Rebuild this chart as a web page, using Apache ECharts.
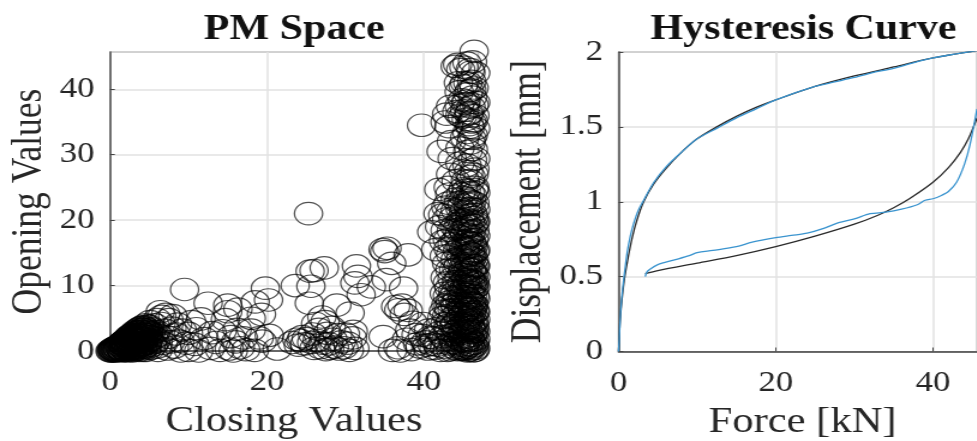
<!DOCTYPE html>
<html>
<head>
<meta charset="utf-8">
<style>html,body{margin:0;padding:0;background:#fff;overflow:hidden;width:977px;height:441px}
#c{width:814.17px;height:441px;transform:scaleX(1.2);transform-origin:0 0;filter:blur(0.45px)}</style>
<script src="https://cdn.jsdelivr.net/npm/echarts@6/dist/echarts.min.js"></script>
</head>
<body>
<div id="c"></div>
<script>
const xTicksInterval = 20;
const pmOrigin = [[0,0],[0.2,0.1],[0.3,0],[0.4,0.2],[0.5,0.1],[0.6,0.4],[0.7,0.2],[0.8,0],[0.9,0.5],[1,0.3],[1,0.7],[1.1,0.1],[1.2,0.5],[1.3,0.9],[1.4,0.2],[1.5,0.7],[1.5,1.2],[1.6,0],[1.7,0.4],[1.8,1],[1.8,1.5],[1.9,0.2],[2,0.7],[2,1.3],[2.1,1.8],[2.2,0],[2.3,0.5],[2.3,1.1],[2.4,1.6],[2.5,2.1],[2.6,0.2],[2.6,0.8],[2.7,1.4],[2.8,2],[2.8,2.5],[2.9,0],[3,0.5],[3,1.1],[3,1.7],[3.1,2.3],[3.2,2.8],[3.3,0.2],[3.3,0.9],[3.4,1.5],[3.5,2.1],[3.5,2.9],[3.6,3.3],[3.7,0.1],[3.7,0.7],[3.8,1.3],[3.9,1.9],[3.9,2.5],[4,3],[4,3.6],[4.1,0.3],[4.2,1],[4.3,1.7],[4.3,2.3],[4.4,2.9],[4.5,3.5],[4.5,4],[4.6,0.1],[4.7,0.8],[4.8,1.4],[4.9,2.2],[5,3],[5,3.8],[5.1,4.5],[5.2,0.4],[5.3,1.2],[2.2,1.5],[1.6,1],[2.9,1.9],[3.4,2.4],[2.5,1.2],[1.2,0.9],[0.7,0.5],[3.8,2.9],[4.2,3.3],[0.3,0.2],[1.9,1.1],[2.7,0.4],[3.1,1.3],[3.6,0.6],[4.4,1.1],[4.8,3.3]];
const pmOriginFill = [[0.1,0],[0.3,0.3],[0.5,0.4],[0.6,0],[0.8,0.6],[0.9,0.1],[1.1,0.8],[1.3,0.3],[1.4,1.1],[1.5,0.1],[1.7,0.8],[1.7,1.4],[1.9,1.6],[2,0.1],[2.1,0.5],[2.1,1],[2.2,1.9],[2.4,0.3],[2.4,0.9],[2.4,2.2],[2.5,1.6],[2.6,2.4],[2.7,0.9],[2.8,1.2],[2.8,0.1],[2.9,2.2],[3,2.7],[3,1.4],[3.1,0.3],[3.1,0.8],[3.2,1.8],[3.2,3],[3.3,2.5],[3.4,0.5],[3.4,1.2],[3.5,1.8],[3.6,2.6],[3.6,0.3],[3.7,3.1],[3.7,1],[3.8,2.2],[3.8,3.5],[3.9,0.5],[3.9,1.6],[4,2.7],[4,0.9],[4.1,2],[4.1,3.3],[4.2,0.1],[4.2,1.4],[4.3,2.6],[4.3,3.7],[4.4,0.6],[4.5,1.9],[4.6,2.5],[4.6,3.1],[4.7,1.2],[4.7,3.8],[4.8,0.5],[4.9,2.8],[5,1.7],[5.2,2.6],[5.4,3.4],[5.5,0.9],[5.6,2],[5.7,4],[5.8,1.4],[5.9,3],[6,4.8],[6.1,0.1]];
const pmLowBand = [[6,0.6],[6.2,2.4],[6.4,6],[6.5,4.2],[6.6,5.3],[6.8,1.2],[7,3.2],[7.1,5.6],[7.3,0.3],[7.4,2.1],[7.5,4.8],[7.7,1.4],[7.9,3.5],[8,5.4],[8.2,0.6],[8.4,2.6],[8.6,4.1],[8.9,1.5],[9,0],[9.2,3.2],[9.5,9.4],[9.7,1.2],[10,0.1],[10,2.7],[10.4,4.5],[10.8,1],[11,3.4],[11.3,0],[11.6,4.9],[12,1.9],[12.5,7.3],[12.8,0.4],[13,2.8],[13.5,1.3],[14,0.1],[14.3,3.1],[14.7,4.8],[15,7],[15,6],[15.2,0.3],[15.4,2.2],[15.7,0],[16,1.4],[16.2,3.3],[16.3,6.4],[16.6,0.5],[17,2],[17.3,0.2],[18,3.2],[18,5],[18.4,0.1],[18.5,7.5],[19,2],[19.3,5.6],[19.4,1.5],[19.8,9.6],[20.2,7.8],[20.3,2.4],[21.3,0.3]];
const pmMidBand = [[23.2,1.3],[23.6,10],[23.8,1.8],[24,0.9],[24.3,1.6],[24.5,2.2],[24.8,1.1],[25,1.9],[25.3,21],[25.4,7.3],[25.5,12.2],[25.6,9.9],[25.7,1.3],[25.8,2.6],[26,12.3],[26,0.4],[26.2,4.2],[26.4,1.6],[26.6,3.3],[26.8,0.5],[27,5.2],[27.1,1.2],[27.3,12.7],[27.4,4.5],[27.5,0.2],[27.7,2.7],[27.9,1.1],[28,0.4],[28.2,3.6],[28.4,1.8],[28.6,0.6],[28.9,7],[29,2.5],[29.2,0.3],[29.5,1.4],[29.8,0.5],[30,2.6],[30.3,1.2],[30.5,0.1],[30.6,5.8],[30.9,2],[31,3],[31.2,0.4],[31.2,10.4],[31.4,13],[31.6,11.4],[32,8.6],[33.3,9.8],[34.8,15.5],[34.8,2.2],[35,15.2],[35.3,15.7],[35.9,13.4],[35.2,10.9],[36,0.1],[36.4,6.8],[36.7,0.5],[36.8,6.3],[37,0],[37.2,7],[37.4,9.6],[37.5,5.6],[37.8,1.8],[38,14.7],[38,6.2],[38.2,3.2],[38.4,0.2],[38.6,4.4],[39,2.5],[39.2,1.1],[39.5,0.6],[39.7,34.5],[39.9,4.2],[40.2,1.4],[40.5,0.3],[40.8,2.1],[41,1],[41.3,0.4],[41.6,3.4],[41.9,1.3],[42.1,0.1],[42.3,5.1]];
const pmRightColumn = [[41,18.2],[41.5,15.5],[41.8,21],[41.9,24.7],[42,19],[42.2,30.5],[42.4,20.8],[42.6,14.5],[42.7,35],[42.8,22],[43,8.4],[43,17],[43.1,25],[43.2,34.3],[43.3,12.4],[43.4,21.3],[43.5,32],[43.6,16.4],[43.6,6.3],[43.7,9.2],[43.8,3.8],[43.9,19],[44,23.2],[44,14],[44,43.5],[44.1,1.2],[44.2,7.7],[44.2,36.6],[44.3,43.8],[44.3,10.6],[44.4,17.6],[44.4,4.8],[44.5,39.6],[44.5,37.5],[44.6,21.8],[44.6,28.7],[44.7,43],[44.7,0.3],[44.8,13.2],[44.8,2.7],[44.9,35.8],[44.9,8.3],[45,40.5],[45,18.3],[45,5.7],[45.1,43.4],[45.1,23.5],[45.1,11.7],[45.2,36.8],[45.2,0.8],[45.3,26],[45.3,15.7],[45.3,7],[45.4,38.2],[45.4,20.2],[45.4,3.1],[45.5,44],[45.5,33.4],[45.5,9.9],[45.5,0],[45.6,41],[45.6,30.5],[45.6,22.4],[45.6,13.8],[45.6,5],[45.7,36.2],[45.7,27.4],[45.7,17],[45.7,1.8],[45.8,39.8],[45.8,34.6],[45.8,20.7],[45.8,11.5],[45.8,7.8],[45.9,43],[45.9,24.2],[45.9,15],[45.9,3.6],[46,37.3],[46,31.8],[46,26.7],[46,19.4],[46,9],[46,0.5],[46.1,41.2],[46.1,35],[46.1,22.8],[46.1,12.6],[46.1,5.9],[46.2,44.2],[46.2,38.8],[46.2,29.2],[46.2,16.4],[46.2,2.4],[46.3,33],[46.3,20.9],[46.3,10.3],[46.3,7.2],[46.3,0],[46.4,45.8],[46.4,40.2],[46.4,24.7],[46.4,14],[46.4,4.4],[46.5,36],[46.5,27.8],[46.5,18.4],[46.5,8.4],[46.5,1.2],[46.6,42.5],[46.6,34],[46.6,21.6],[46.6,11.3],[46.6,6],[46.6,3],[45,20],[45.2,14],[44.6,10],[44.9,6.4],[45.4,16.8],[45.1,2],[45.7,12.6],[45.3,18.8],[45.5,23.2],[44.3,15.3],[44.5,19.5],[44.7,24],[44.8,16],[45,9],[45.2,4.2],[45.6,8],[45.8,2.8],[46,14.8],[46.2,6.6],[46.4,17],[46.5,22.6],[46.6,13],[46.1,9.8],[45.9,19.9],[45.7,21.7],[45.5,6.3],[45.3,11],[45.1,0.2],[44.9,12],[44.7,5.2],[44.4,1.9],[44.2,12.6],[44,6.8],[43.8,1.3],[43.6,11],[43.4,4.5],[44,9],[44.6,7.2],[45.2,8.7],[45.8,5.2],[46.4,9.6],[46.3,19.2],[46.1,3.2],[46,7.2],[45.9,0.9],[45.4,1.4],[44.8,0.5],[46.5,15.2],[46.6,0.4],[46.6,19.8],[46.2,12],[45.6,15.8],[45,24.8],[45.9,26],[46.3,30.8],[45.5,28.4],[46.1,32.5],[45.4,35.4],[46.4,37.6],[45.9,34.2],[45.3,37.8],[44.9,38.4],[45.6,39.3],[46.1,39.9],[45.2,41],[45.8,36.4],[46.3,35.2],[44.6,36],[44.4,41],[46,42.6]];
const pmColumnFill = [[43,3.2],[43.1,6.8],[43.2,1.1],[43.2,9.6],[43.3,7.5],[43.4,14.7],[43.4,0.2],[43.5,2.5],[43.5,18.4],[43.6,8.2],[43.7,5.1],[43.7,20.3],[43.8,12.4],[43.9,7.2],[43.9,2.6],[44,0.4],[44,4.2],[44,16.8],[44,21.5],[44.1,10.6],[44.1,26],[44.2,5.6],[44.2,18.6],[44.3,0.2],[44.3,3.1],[44.3,8.4],[44.4,13.1],[44.4,22.7],[44.5,6.2],[44.5,11.2],[44.5,0.9],[44.6,3.6],[44.6,16.2],[44.6,31],[44.7,9],[44.7,14.4],[44.7,20.1],[44.8,1.6],[44.8,6.9],[44.8,18.8],[44.9,4],[44.9,10.4],[44.9,22.3],[45,0.3],[45,3],[45,7.2],[45,12.8],[45,27.5],[45.1,5],[45.1,15.6],[45.1,21.3],[45.2,1.5],[45.2,10],[45.2,18],[45.2,32.6],[45.3,3.8],[45.3,6],[45.3,13],[45.3,0.4],[45.4,8.1],[45.4,10.9],[45.4,14.6],[45.4,24.6],[45.5,2.2],[45.5,4.6],[45.5,12],[45.5,19.2],[45.6,0.6],[45.6,3.4],[45.6,6.6],[45.6,10.6],[45.6,17.8],[45.7,1],[45.7,4.4],[45.7,9],[45.7,14.6],[45.7,19],[45.8,0.1],[45.8,6.4],[45.8,13.4],[45.8,16.4],[45.8,23],[45.9,2],[45.9,4.8],[45.9,8.6],[45.9,11],[45.9,17.6],[46,1.6],[46,3.6],[46,5.6],[46,10.8],[46,12.4],[46,16.6],[46,21.8],[46.1,0.3],[46.1,7.4],[46.1,14.2],[46.1,18.2],[46.2,1.2],[46.2,4.2],[46.2,8.4],[46.2,10.6],[46.2,14.8],[46.2,23.8],[46.3,2.8],[46.3,5.6],[46.3,12.8],[46.3,16],[46.4,0.8],[46.4,3],[46.4,7],[46.4,11.8],[46.4,20.4],[46.4,27],[46.5,0.1],[46.5,3.8],[46.5,6],[46.5,10.4],[46.5,13],[46.5,19.6],[46.5,25],[46.6,1.8],[46.6,4.8],[46.6,8],[46.6,9.8],[46.6,15.4],[46.6,17.6],[46.6,24.2],[46.6,29.4],[46.6,38]];
const pmLeftEdge = [[42.4,2.2],[42.5,6.1],[42.6,0.6],[42.6,8.8],[42.7,4.2],[42.7,11.2],[42.8,1.7],[42.8,7],[42.9,13.4],[42.9,5.3],[43,10.4],[43,0.1],[43.1,3.9],[43.1,15.6],[43.2,6.2],[42.5,16.8],[42.7,18.4],[42.9,20.2],[43.1,22.6],[43.3,24],[43.4,27],[43.6,29.4],[42.9,36.2],[43.4,37.4],[40.6,3.2],[41.2,2],[41.7,0.9],[39.8,2.4],[40.4,0.9],[42,2.8]];
const pmPoints = [...pmOrigin, ...pmOriginFill, ...pmLowBand, ...pmMidBand, ...pmRightColumn, ...pmColumnFill, ...pmLeftEdge];

const blackLoading = [[0,0],[0.1,0.1],[0.2,0.2],[0.35,0.3],[0.55,0.4],[0.8,0.5],[1.2,0.62],[1.7,0.75],[2.3,0.87],[3.2,1],[4.5,1.12],[6,1.22],[8,1.33],[10,1.42],[12.5,1.5],[15,1.57],[17.5,1.63],[20,1.68],[25,1.77],[30,1.84],[35,1.9],[40,1.96],[45.6,2.01]];
const blackUnloading = [[3.4,0.52],[5,0.54],[10,0.59],[15,0.64],[20,0.7],[25,0.77],[30,0.85],[33,0.91],[35,0.96],[37,1.02],[40,1.13],[42,1.23],[43.5,1.33],[44.5,1.42],[45.6,1.56]];
const blueLoading = [[0,0],[0.1,0.08],[0.2,0.2],[0.35,0.32],[0.55,0.43],[0.8,0.54],[1.1,0.66],[1.5,0.77],[1.9,0.85],[2.5,0.94],[3.2,1.01],[4.5,1.13],[6,1.23],[8,1.33],[10,1.42],[12.5,1.49],[15,1.56],[17.5,1.62],[20,1.68],[25,1.77],[27.5,1.8],[30,1.83],[33,1.87],[35,1.89],[37,1.92],[40,1.96],[45.6,2.01]];
const blueUnloading = [[3.4,0.5],[3.6,0.53],[4,0.55],[5,0.58],[7,0.61],[9,0.64],[10,0.66],[12,0.675],[15,0.7],[17,0.73],[20,0.76],[22,0.775],[24,0.79],[26,0.82],[28,0.86],[30,0.885],[32,0.92],[34,0.93],[36,0.95],[38,0.98],[39,1.01],[40,1.02],[41,1.04],[42,1.07],[43,1.13],[44,1.25],[44.7,1.38],[45.6,1.62]];

const serif = '"Liberation Serif"';
const ink = '#262626';
function xAxis(idx, max, name, pad) {
  return { type:'value', gridIndex:idx, min:0, max:max, interval:xTicksInterval, name:name, nameLocation:'middle', nameGap:53,
    nameTextStyle:{fontFamily:serif,fontSize:35.5,color:ink,padding:[0,0,0,pad]},
    axisLine:{show:true,onZero:false,lineStyle:{color:'#444',width:1.5}},
    axisTick:{show:true,inside:true,length:4,lineStyle:{color:'#444'}},
    axisLabel:{fontFamily:serif,fontSize:29,color:ink,margin:17,showMaxLabel:false},
    splitLine:{show:true,lineStyle:{color:'#e2e2e2',width:1.5}} };
}
function yAxis(idx, max, interval, name, gap) {
  return { type:'value', gridIndex:idx, min:0, max:max, interval:interval, name:name, nameLocation:'middle', nameGap:gap,
    nameTextStyle:{fontFamily:serif,fontSize:35.5,color:ink},
    axisLine:{show:true,onZero:false,lineStyle:{color:'#555',width:1.6}},
    axisTick:{show:true,inside:true,length:4,lineStyle:{color:'#444'}},
    axisLabel:{fontFamily:serif,fontSize:29,color:ink,margin:13,showMaxLabel:interval===0.5},
    splitLine:{show:true,lineStyle:{color:'#e2e2e2',width:1.5}} };
}
function curve(data, color) {
  return { type:'line', xAxisIndex:1, yAxisIndex:1, data:data, showSymbol:false, smooth:0.3,
    lineStyle:{color:color,width:1.3} };
}
const chart = echarts.init(document.getElementById('c'), null, {renderer:'canvas',width:814.17,height:441});
chart.setOption({
  animation:false,
  backgroundColor:'#fff',
  title:[
    {text:'PM Space',left:240.2,top:7,textAlign:'center',textStyle:{fontFamily:serif,fontWeight:'bold',fontSize:35,color:'#111'}},
    {text:'Hysteresis Curve',left:664.6,top:7,textAlign:'center',textStyle:{fontFamily:serif,fontWeight:'bold',fontSize:35,color:'#111'}}
  ],
  grid:[
    {left:91.67,top:52,width:306.67,height:299,show:true,borderColor:'#444',borderWidth:1,backgroundColor:'transparent',outerBoundsMode:'none'},
    {left:515.4,top:52,width:298.75,height:299.5,show:true,borderColor:'#444',borderWidth:1,backgroundColor:'transparent',outerBoundsMode:'none'}
  ],
  xAxis:[xAxis(0,46.9,'Closing Values',0),xAxis(1,45.6,'Force [kN]',8)],
  yAxis:[yAxis(0,45.7,10,'Opening Values',49),yAxis(1,2,0.5,'Displacement [mm]',57)],
  series:[
    {type:'scatter',xAxisIndex:0,yAxisIndex:0,data:pmPoints,symbol:'circle',symbolSize:[23.5,22.5],clip:false,
     itemStyle:{color:'transparent',borderColor:'rgba(0,0,0,0.85)',borderWidth:1.2}},
    curve(blackLoading,'#2a2a2a'),
    curve(blackUnloading,'#2a2a2a'),
    curve(blueLoading,'#3a94cf'),
    curve(blueUnloading,'#3a94cf')
  ]
});
</script>
</body>
</html>
